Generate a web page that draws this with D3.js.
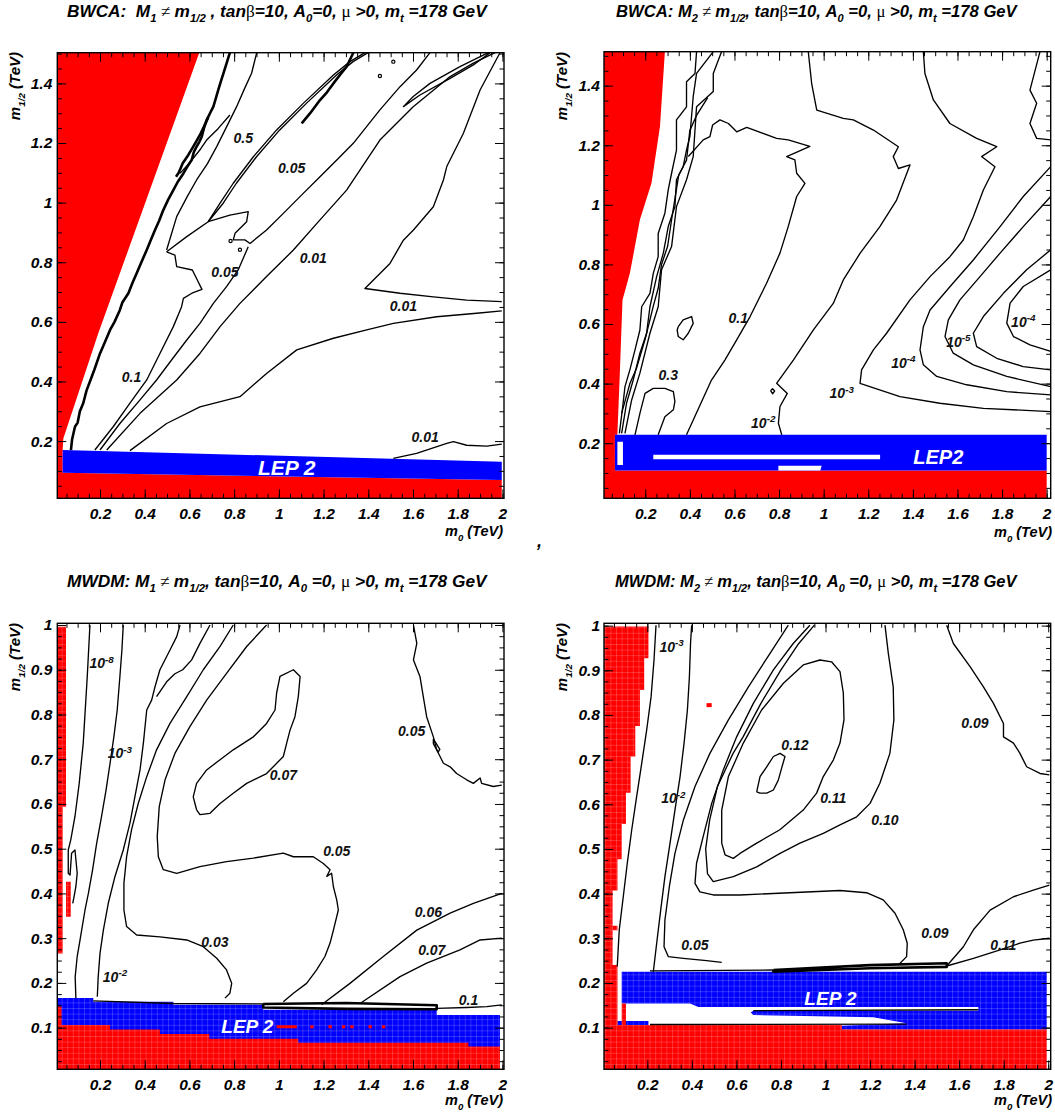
<!DOCTYPE html>
<html>
<head>
<meta charset="utf-8">
<script src="https://cdn.jsdelivr.net/npm/d3@7"></script>
<style>
  body { margin: 0; background: #fff; }
  text { font-family: "Liberation Sans", Arial, Helvetica, sans-serif; font-weight: bold; font-style: italic; white-space: pre; }
</style>
</head>
<body>
<svg id="fig" width="1055" height="1114"></svg>
<script>
// ================= axis tick values =================
const xMajorTicks = [0.2, 0.4, 0.6, 0.8, 1, 1.2, 1.4, 1.6, 1.8, 2];
const xMinorTicks = d3.range(1, 41).map(i => i * 0.05);
const yMajorTicksBWCA = [0.2, 0.4, 0.6, 0.8, 1, 1.2, 1.4];
const yMinorTicksBWCA = d3.range(1, 31).map(i => i * 0.05);
const yMajorTicksMWDM = [0.1, 0.2, 0.3, 0.4, 0.5, 0.6, 0.7, 0.8, 0.9, 1];
const yMinorTicksMWDM = d3.range(1, 41).map(i => i * 0.025);

// ================= titles =================
const titleBWCA1 = [["BWCA:  M"], ["1", "sub"], [" \u2260 ", "sym"], ["m"], ["1/2", "sub"], [" , tan"], ["\u03b2", "sym"], ["=10, A"], ["0", "sub"], ["=0, "], ["\u03bc", "sym"], [" >0, m"], ["t", "sub"], [" =178 GeV"]];
const titleBWCA2 = [["BWCA: M"], ["2", "sub"], [" \u2260 ", "sym"], ["m"], ["1/2", "sub"], [", tan"], ["\u03b2", "sym"], ["=10, A"], ["0", "sub"], [" =0, "], ["\u03bc", "sym"], [" >0, m"], ["t", "sub"], [" =178 GeV"]];
const titleMWDM1 = [["MWDM: M"], ["1", "sub"], [" \u2260 ", "sym"], ["m"], ["1/2", "sub"], [", tan"], ["\u03b2", "sym"], ["=10, A"], ["0", "sub"], [" =0, "], ["\u03bc", "sym"], [" >0, m"], ["t", "sub"], [" =178 GeV"]];
const titleMWDM2 = [["MWDM: M"], ["2", "sub"], [" \u2260 ", "sym"], ["m"], ["1/2", "sub"], [", tan"], ["\u03b2", "sym"], ["=10, A"], ["0", "sub"], [" =0, "], ["\u03bc", "sym"], [" >0, m"], ["t", "sub"], [" =178 GeV"]];
const yAxisTitle = [["m"], ["1/2", "sub"], [" (TeV)"]];
const xAxisTitle = [["m"], ["0", "sub"], [" (TeV)"]];

// ================= BWCA, M1 != m1/2 (m0, m1/2 in TeV) =================
const bwcaM1RedWedge = [[0.009,1.503],[0.644,1.503],[0.192,0.561],[0.036,0.209],[0.033,0.170],[0.033,0.008],[0.009,0.008]];
const bwcaM1RedBand = [[0.009,0.008],[0.009,0.095],[0.033,0.094],[1.997,0.069],[1.997,0.008]];
const bwcaM1Lep = [[0.033,0.170],[1.997,0.131],[1.997,0.069],[0.033,0.094]];

const bwcaM1EdgeContour = [[0.070,0.170],[0.075,0.205],[0.088,0.248],[0.100,0.262],[0.110,0.300],[0.125,0.327],[0.140,0.370],[0.163,0.416],[0.175,0.440],[0.200,0.494],[0.215,0.520],[0.245,0.573],[0.265,0.600],[0.289,0.640],[0.300,0.665],[0.327,0.696],[0.345,0.730],[0.364,0.763],[0.385,0.800],[0.409,0.841],[0.425,0.870],[0.446,0.908],[0.465,0.940],[0.483,0.975],[0.505,1.010],[0.528,1.042],[0.548,1.070],[0.573,1.098],[0.590,1.120],[0.610,1.143],[0.620,1.170],[0.632,1.188],[0.645,1.205],[0.655,1.221],[0.665,1.250],[0.677,1.277],[0.692,1.300],[0.707,1.322],[0.718,1.350],[0.729,1.378],[0.740,1.405],[0.752,1.434],[0.765,1.465],[0.781,1.503]];
const bwcaM1ShortThick = [[0.540,1.087],[0.552,1.100],[0.570,1.132],[0.595,1.160],[0.617,1.188],[0.630,1.205],[0.647,1.227],[0.665,1.255],[0.684,1.286]];
const bwcaM1UpperThick = [[1.102,1.266],[1.140,1.300],[1.184,1.344],[1.215,1.370],[1.244,1.400],[1.275,1.430],[1.303,1.456],[1.333,1.503]];
const bwcaM1ShortThin = [[0.558,1.098],[0.590,1.125],[0.617,1.149],[0.650,1.180],[0.677,1.210],[0.729,1.249],[0.781,1.294]];
const bwcaM1Contour05a = [[0.498,0.835],[0.588,0.886],[0.684,0.936],[0.737,0.998],[0.796,1.065],[0.886,1.154],[0.990,1.244],[1.109,1.333],[1.244,1.428],[1.318,1.473],[1.385,1.503]];
const bwcaM1Contour05b = [[0.684,0.936],[0.751,0.998],[0.810,1.065],[0.900,1.154],[1.004,1.244],[1.123,1.333],[1.258,1.428],[1.332,1.473],[1.399,1.503]];
const bwcaM1ContourInner = [[0.498,0.841],[0.543,0.953],[0.590,1.020],[0.632,1.076],[0.680,1.130],[0.722,1.188],[0.770,1.260],[0.811,1.322],[0.845,1.380],[0.878,1.434],[0.901,1.503]];
const bwcaM1Contour005Upper = [[0.684,0.936],[0.781,0.958],[0.863,0.970],[0.856,0.936],[0.804,0.897],[0.796,0.875],[0.848,0.875],[0.871,0.863],[0.945,0.908],[1.020,0.964],[1.109,1.031],[1.184,1.087],[1.259,1.143],[1.333,1.199],[1.452,1.311],[1.542,1.389],[1.616,1.445],[1.676,1.503]];
const bwcaM1Contour005Left = [[0.498,0.835],[0.535,0.824],[0.543,0.785],[0.613,0.774],[0.656,0.709],[0.611,0.696],[0.573,0.679],[0.565,0.651],[0.528,0.584],[0.468,0.494],[0.409,0.405],[0.334,0.327],[0.259,0.248],[0.177,0.170]];
const bwcaM1Contour005Right = [[0.863,0.852],[0.818,0.774],[0.766,0.718],[0.707,0.662],[0.647,0.595],[0.588,0.539],[0.520,0.472],[0.453,0.405],[0.379,0.338],[0.289,0.259],[0.200,0.170]];
const bwcaM1Contour001Upper = [[0.230,0.170],[0.379,0.293],[0.543,0.405],[0.647,0.494],[0.737,0.584],[0.826,0.662],[0.945,0.752],[1.065,0.841],[1.184,0.942],[1.303,1.042],[1.452,1.210],[1.601,1.322],[1.766,1.423],[1.870,1.468],[1.967,1.503]];
const bwcaM1CornerLoop = [[1.937,1.503],[1.810,1.456],[1.676,1.400],[1.601,1.356],[1.557,1.322],[1.631,1.361],[1.766,1.417],[1.870,1.462],[1.945,1.503]];
const bwcaM1Wedge001 = [[1.989,1.503],[1.900,1.378],[1.825,1.232],[1.751,1.121],[1.736,1.076],[1.691,0.986],[1.602,0.908],[1.557,0.874],[1.497,0.796],[1.385,0.712],[1.542,0.696],[1.691,0.684],[1.840,0.673],[1.997,0.668]];
const bwcaM1Contour001Mid = [[0.334,0.168],[0.498,0.259],[0.647,0.315],[0.826,0.349],[0.945,0.427],[1.080,0.506],[1.244,0.545],[1.393,0.573],[1.512,0.595],[1.706,0.617],[1.885,0.629],[1.997,0.637]];
const bwcaM1Contour001Low = [[1.512,0.142],[1.616,0.159],[1.751,0.192],[1.781,0.198],[1.840,0.186],[1.930,0.183],[1.997,0.190]];
const bwcaM1Dots = [[1.512,1.473],[1.452,1.425],[0.784,0.871],[0.826,0.842]];
const bwcaM1Labels = [["0.5",0.841,1.216],["0.05",1.057,1.115],["0.05",0.759,0.768],["0.01",1.154,0.813],["0.01",1.557,0.654],["0.1",0.341,0.416],["0.01",1.654,0.215]];
const bwcaM1LepLabel = ["LEP 2", 1.035, 0.110];

// ================= BWCA, M2 != m1/2 =================
const bwcaM2Red = [[0.015,1.514],[0.288,1.514],[0.266,1.263],[0.228,1.073],[0.176,0.950],[0.131,0.770],[0.098,0.681],[0.086,0.435],[0.075,0.228],[0.064,0.228],[0.064,0.108],[2.000,0.108],[2.000,0.015],[0.015,0.015]];
const bwcaM2Lep = [[0.064,0.228],[2.000,0.228],[2.000,0.108],[0.064,0.108]];
const bwcaM2LepGapLeft = [[0.075,0.205],[0.100,0.205],[0.100,0.127],[0.075,0.127]];
const bwcaM2LepGapBar = [[0.236,0.161],[1.253,0.161],[1.253,0.146],[0.236,0.146]];
const bwcaM2LepGapNotch = [[0.797,0.124],[0.991,0.124],[0.985,0.108],[0.797,0.108]];

const bwcaM2Bundle1 = [[0.084,0.233],[0.099,0.323],[0.109,0.390],[0.131,0.446],[0.154,0.513],[0.176,0.580],[0.184,0.658],[0.221,0.703],[0.236,0.770],[0.258,0.826],[0.258,0.904],[0.288,0.972],[0.303,1.050],[0.318,1.106],[0.340,1.184],[0.340,1.285],[0.385,1.329],[0.385,1.413],[0.423,1.441],[0.430,1.514]];
const bwcaM2Bundle2 = [[0.094,0.233],[0.116,0.334],[0.146,0.412],[0.176,0.502],[0.206,0.569],[0.221,0.658],[0.251,0.759],[0.281,0.838],[0.303,0.927],[0.333,0.994],[0.340,1.084],[0.370,1.128],[0.385,1.184],[0.400,1.229],[0.415,1.363],[0.430,1.441],[0.505,1.514]];
const bwcaM2Bundle3 = [[0.109,0.233],[0.139,0.345],[0.176,0.435],[0.221,0.569],[0.258,0.658],[0.273,0.782],[0.318,0.860],[0.340,0.994],[0.385,1.084],[0.415,1.162],[0.430,1.329],[0.505,1.380],[0.505,1.441],[0.542,1.514]];
const bwcaM2Bundle4 = [[0.094,0.300],[0.131,0.400],[0.160,0.450],[0.200,0.550],[0.236,0.660],[0.258,0.720],[0.273,0.800],[0.300,0.860],[0.318,0.950],[0.333,1.020],[0.350,1.100],[0.385,1.150],[0.400,1.250],[0.430,1.300],[0.480,1.360]];
const bwcaM2Contour01 = [[0.385,0.228],[0.497,0.412],[0.557,0.479],[0.610,0.547],[0.670,0.625],[0.744,0.737],[0.804,0.838],[0.841,0.927],[0.879,1.028],[0.916,1.072],[0.879,1.106],[0.871,1.151],[0.834,1.162],[0.938,1.196],[0.841,1.218],[0.789,1.223],[0.655,1.260],[0.610,1.245],[0.573,1.273],[0.535,1.285],[0.502,1.268],[0.490,1.229],[0.460,1.218],[0.393,1.162]];
const bwcaM2Island = [[0.348,0.591],[0.370,0.614],[0.408,0.625],[0.415,0.602],[0.393,0.569],[0.370,0.547],[0.348,0.558],[0.343,0.580],[0.348,0.591]];
const bwcaM2Contour03 = [[0.154,0.228],[0.176,0.300],[0.199,0.367],[0.236,0.384],[0.288,0.384],[0.326,0.373],[0.333,0.340],[0.326,0.312],[0.288,0.289],[0.258,0.228]];
const bwcaM2Contour1em2 = [[0.812,0.228],[0.797,0.267],[0.804,0.323],[0.837,0.367],[0.789,0.401],[0.864,0.479],[0.954,0.580],[1.043,0.669],[1.088,0.748],[1.163,0.837],[1.252,0.927],[1.327,1.016],[1.387,1.134],[1.335,1.122],[1.312,1.162],[1.335,1.195],[1.223,1.251],[1.133,1.285],[1.088,1.290],[0.969,1.318],[0.946,1.408],[0.931,1.514]];
const bwcaM2TinyLoop = [[0.762,0.376],[0.771,0.383],[0.780,0.375],[0.771,0.366],[0.762,0.376]];
const bwcaM2Contour1em3 = [[2.018,0.306],[1.716,0.317],[1.521,0.334],[1.342,0.356],[1.163,0.401],[1.170,0.446],[1.223,0.513],[1.282,0.569],[1.387,0.681],[1.477,0.759],[1.566,0.826],[1.626,0.882],[1.671,0.960],[1.716,1.050],[1.768,1.128],[1.708,1.162],[1.776,1.195],[1.686,1.223],[1.566,1.273],[1.492,1.352],[1.454,1.441],[1.447,1.514]];
const bwcaM2Contour1em4Outer = [[2.018,1.128],[1.895,1.028],[1.791,0.927],[1.671,0.815],[1.567,0.726],[1.477,0.647],[1.447,0.591],[1.432,0.513],[1.447,0.463],[1.507,0.424],[1.641,0.396],[1.821,0.373],[2.018,0.362]];
const bwcaM2Contour1em5 = [[2.018,1.028],[1.895,0.927],[1.791,0.838],[1.701,0.759],[1.611,0.681],[1.559,0.614],[1.544,0.558],[1.581,0.502],[1.671,0.463],[1.821,0.424],[2.018,0.390]];
const bwcaM2Contour1em6 = [[2.018,0.849],[1.910,0.782],[1.806,0.703],[1.716,0.625],[1.671,0.569],[1.686,0.524],[1.776,0.485],[1.895,0.457],[2.018,0.446]];
const bwcaM2Contour1em4Inner = [[2.018,0.782],[1.895,0.726],[1.836,0.670],[1.821,0.603],[1.851,0.558],[1.925,0.530],[2.018,0.508]];
const bwcaM2CornerLine = [[1.970,1.514],[1.925,1.385],[1.955,1.341],[1.925,1.273],[1.955,1.223],[2.018,1.218]];
const bwcaM2Labels = [["0.1",0.617,0.619],["0.3",0.303,0.429],["10^-2",0.729,0.267],["10^-3",1.081,0.367],["10^-4",1.357,0.468],["10^-5",1.604,0.541],["10^-4",1.895,0.608]];
const bwcaM2LepLabel = ["LEP2", 1.514, 0.155];

// ================= MWDM, M1 != m1/2 =================
const mwdmM1LepEdges = [0.009, 0.170, 0.528, 0.930, 1.706, 1.989];
const mwdmM1LepTops = [0.166, 0.158, 0.151, 0.140, 0.128];
const mwdmM1RedEdges = [0.009, 0.245, 0.468, 0.689, 1.087, 1.848, 1.989];
const mwdmM1RedTops = [0.106, 0.096, 0.086, 0.075, 0.066, 0.058];
const mwdmM1RedStrip = [[0.009,0.996],[0.048,0.996],[0.048,0.594],[0.033,0.594],[0.033,0.266],[0.009,0.266]];
const mwdmM1RedPatch = [[0.048,0.426],[0.069,0.426],[0.069,0.348],[0.048,0.348]];
const mwdmM1RedSliver = [[0.009,0.147],[0.028,0.147],[0.028,0.106],[0.009,0.106]];
const mwdmM1Specks = [[0.990,1.080,0.102],[1.140,1.155,0.102],[1.222,1.237,0.102],[1.282,1.297,0.102],[1.319,1.334,0.102],[1.401,1.416,0.102],[1.461,1.476,0.102]];

const mwdmM1Contour1em8 = [[0.155,1.000],[0.143,0.885],[0.125,0.736],[0.107,0.646],[0.088,0.572],[0.069,0.519],[0.058,0.497],[0.058,0.445],[0.066,0.441],[0.073,0.490],[0.088,0.497],[0.098,0.445],[0.092,0.415],[0.084,0.393],[0.078,0.378]];
const mwdmM1Contour1em3 = [[0.092,0.166],[0.089,0.214],[0.098,0.259],[0.113,0.303],[0.133,0.363],[0.148,0.400],[0.167,0.453],[0.185,0.512],[0.207,0.572],[0.227,0.631],[0.245,0.691],[0.262,0.750],[0.277,0.810],[0.289,0.885],[0.298,0.944],[0.304,1.000]];
const mwdmM1Contour1em2 = [[0.188,0.169],[0.192,0.214],[0.200,0.266],[0.215,0.318],[0.237,0.378],[0.267,0.438],[0.304,0.497],[0.334,0.557],[0.356,0.616],[0.379,0.676],[0.394,0.736],[0.409,0.810],[0.431,0.832],[0.446,0.862],[0.468,0.900],[0.513,0.944],[0.543,0.974],[0.558,1.000]];
const mwdmM1TopWiggle = [[0.692,1.000],[0.647,0.959],[0.610,0.922],[0.570,0.900],[0.535,0.891],[0.498,0.873],[0.453,0.840]];
const mwdmM1Contour003 = [[0.796,1.000],[0.737,0.952],[0.662,0.900],[0.588,0.840],[0.513,0.780],[0.453,0.721],[0.409,0.661],[0.371,0.601],[0.341,0.542],[0.319,0.482],[0.307,0.423],[0.307,0.363],[0.319,0.326],[0.364,0.307],[0.468,0.303],[0.588,0.296],[0.662,0.281],[0.722,0.255],[0.766,0.229],[0.789,0.199],[0.781,0.177],[0.759,0.166]];
const mwdmM1Contour005 = [[0.945,1.000],[0.856,0.952],[0.766,0.892],[0.677,0.832],[0.602,0.773],[0.535,0.713],[0.491,0.654],[0.465,0.594],[0.456,0.527],[0.461,0.482],[0.483,0.453],[0.543,0.445],[0.647,0.460],[0.766,0.471],[0.886,0.479],[1.020,0.490],[1.065,0.482],[1.154,0.482],[1.199,0.467],[1.229,0.453],[1.214,0.438],[1.236,0.445],[1.244,0.415],[1.259,0.385],[1.266,0.363],[1.244,0.318],[1.229,0.289],[1.206,0.259],[1.169,0.229],[1.124,0.199],[1.065,0.177],[1.020,0.158]];
const mwdmM1Contour007 = [[0.632,0.587],[0.617,0.616],[0.632,0.646],[0.677,0.676],[0.737,0.699],[0.796,0.721],[0.886,0.750],[0.945,0.780],[0.983,0.810],[0.990,0.848],[1.005,0.885],[1.065,0.900],[1.095,0.885],[1.087,0.840],[1.072,0.795],[1.050,0.765],[1.035,0.736],[1.020,0.706],[0.945,0.668],[0.856,0.646],[0.796,0.624],[0.737,0.601],[0.692,0.579],[0.647,0.576],[0.632,0.587]];
const mwdmM1Contour005Right = [[1.602,1.000],[1.617,0.959],[1.602,0.922],[1.631,0.885],[1.646,0.840],[1.661,0.795],[1.691,0.750],[1.706,0.721],[1.721,0.706],[1.736,0.691],[1.766,0.683],[1.795,0.668],[1.840,0.654],[1.870,0.646],[1.900,0.658],[1.907,0.646],[1.959,0.639],[1.997,0.642]];
const mwdmM1RightIsland = [[1.691,0.745],[1.700,0.738],[1.720,0.722],[1.712,0.716],[1.691,0.735],[1.691,0.745]];
const mwdmM1Contour006 = [[1.191,0.151],[1.318,0.199],[1.467,0.259],[1.617,0.318],[1.766,0.356],[1.870,0.378],[1.997,0.400]];
const mwdmM1Contour007Low = [[1.363,0.154],[1.542,0.214],[1.661,0.244],[1.810,0.274],[1.900,0.296],[1.997,0.300]];
const mwdmM1Contour01 = [[1.706,0.143],[1.840,0.145],[1.930,0.147],[1.997,0.151]];
const mwdmM1LepEdgeLine = [[0.170,0.160],[0.528,0.154],[0.945,0.153]];
const mwdmM1ThickBand = [[0.930,0.153],[1.300,0.155],[1.706,0.150],[1.706,0.141],[1.300,0.142],[0.930,0.145],[0.930,0.153]];
const mwdmM1Labels = [["10^-8",0.207,0.914],["10^-3",0.289,0.713],["0.07",1.020,0.665],["0.05",1.594,0.762],["0.05",1.259,0.494],["0.06",1.669,0.359],["0.07",1.684,0.274],["0.03",0.714,0.292],["10^-2",0.267,0.214],["0.1",1.848,0.162]];
const mwdmM1LepLabel = ["LEP 2", 0.859, 0.104];

// ================= MWDM, M2 != m1/2 =================
const mwdmM2RedStairs = [[0.006,0.998],[0.205,0.998],[0.205,0.927],[0.186,0.927],[0.186,0.856],[0.167,0.856],[0.167,0.775],[0.146,0.775],[0.146,0.707],[0.125,0.707],[0.125,0.626],[0.104,0.626],[0.104,0.556],[0.085,0.556],[0.085,0.477],[0.066,0.477],[0.066,0.407],[0.044,0.407],[0.044,0.240],[0.066,0.240],[0.066,0.006],[0.006,0.006]];
const mwdmM2RedNub = [[0.044,0.328],[0.066,0.328],[0.066,0.318],[0.044,0.318]];
const mwdmM2RedSliver = [[0.085,0.154],[0.104,0.154],[0.104,0.106],[0.085,0.106]];
const mwdmM2RedBand = [[0.006,0.106],[1.073,0.106],[1.073,0.096],[1.993,0.096],[1.993,0.006],[0.006,0.006]];
const mwdmM2Lep = [[0.085,0.225],[1.993,0.225],[1.993,0.096],[1.073,0.096],[1.073,0.104],[1.364,0.110],[1.215,0.123],[0.676,0.128],[0.664,0.134],[0.676,0.138],[1.686,0.138],[1.686,0.146],[0.429,0.146],[0.392,0.154],[0.085,0.154]];
const mwdmM2LepPatch = [[0.066,0.115],[0.205,0.115],[0.205,0.106],[0.066,0.106]];
const mwdmM2Specks = [[0.466,0.489,0.822]];

const mwdmM2Contour1em3 = [[0.065,0.237],[0.074,0.319],[0.092,0.393],[0.110,0.468],[0.130,0.543],[0.152,0.617],[0.175,0.692],[0.197,0.766],[0.217,0.841],[0.230,0.923],[0.239,1.001]];
const mwdmM2Contour1em2 = [[0.227,0.225],[0.242,0.289],[0.260,0.363],[0.279,0.438],[0.302,0.513],[0.324,0.587],[0.347,0.662],[0.365,0.737],[0.380,0.811],[0.389,0.886],[0.394,0.960],[0.399,1.001]];
const mwdmM2Contour005 = [[0.534,0.246],[0.466,0.250],[0.362,0.255],[0.294,0.259],[0.275,0.281],[0.279,0.341],[0.299,0.416],[0.324,0.490],[0.362,0.565],[0.414,0.640],[0.481,0.714],[0.564,0.789],[0.654,0.863],[0.751,0.938],[0.833,1.001]];
const mwdmM2Contour009 = [[0.930,1.001],[0.855,0.960],[0.766,0.901],[0.676,0.826],[0.601,0.751],[0.541,0.677],[0.489,0.602],[0.451,0.528],[0.421,0.468],[0.414,0.423],[0.436,0.404],[0.496,0.397],[0.616,0.397],[0.840,0.402],[1.065,0.407],[1.184,0.402],[1.259,0.386],[1.312,0.356],[1.349,0.319],[1.367,0.289],[1.364,0.259],[1.327,0.240]];
const mwdmM2Contour010 = [[1.267,1.001],[1.282,0.938],[1.304,0.863],[1.307,0.789],[1.289,0.714],[1.244,0.647],[1.200,0.602],[1.140,0.572],[1.065,0.554],[0.990,0.535],[0.885,0.513],[0.796,0.490],[0.691,0.460],[0.586,0.438],[0.496,0.427],[0.470,0.445],[0.462,0.500],[0.480,0.565],[0.515,0.640],[0.585,0.714],[0.630,0.751],[0.710,0.826],[0.800,0.901],[0.880,0.960],[0.950,1.001]];
const mwdmM2Contour011 = [[0.534,0.513],[0.534,0.587],[0.564,0.662],[0.631,0.737],[0.713,0.811],[0.811,0.871],[0.900,0.912],[0.975,0.923],[1.027,0.919],[1.065,0.897],[1.080,0.849],[1.083,0.789],[1.065,0.737],[1.035,0.699],[0.990,0.662],[0.960,0.625],[0.900,0.587],[0.795,0.543],[0.691,0.513],[0.616,0.490],[0.586,0.479],[0.549,0.487],[0.534,0.513]];
const mwdmM2Contour012 = [[0.691,0.628],[0.706,0.662],[0.736,0.684],[0.766,0.707],[0.796,0.714],[0.818,0.707],[0.803,0.681],[0.788,0.654],[0.766,0.632],[0.736,0.625],[0.706,0.625],[0.691,0.628]];
const mwdmM2Contour009Right = [[1.544,1.001],[1.574,0.960],[1.649,0.908],[1.709,0.863],[1.754,0.826],[1.799,0.781],[1.799,0.751],[1.844,0.737],[1.873,0.714],[1.903,0.684],[1.963,0.669],[2.005,0.666]];
const mwdmM2Contour010Low = [[1.544,0.238],[1.619,0.281],[1.664,0.319],[1.739,0.363],[1.844,0.393],[1.933,0.408],[2.005,0.419]];
const mwdmM2Contour011Low = [[1.544,0.238],[1.664,0.255],[1.784,0.274],[1.873,0.289],[1.933,0.296],[2.005,0.300]];
const mwdmM2LepEdgeLine = [[0.212,0.227],[0.766,0.229]];
const mwdmM2GapLine1 = [[0.212,0.107],[1.364,0.108]];
const mwdmM2GapLine2 = [[0.676,0.138],[1.686,0.140]];
const mwdmM2ThickBand = [[0.766,0.229],[1.200,0.240],[1.544,0.244],[1.544,0.236],[1.200,0.233],[0.766,0.225],[0.766,0.229]];
const mwdmM2Labels = [["10^-3",0.309,0.953],["10^-2",0.317,0.613],["0.12",0.863,0.733],["0.11",1.035,0.613],["0.10",1.267,0.565],["0.09",1.671,0.781],["0.05",0.414,0.285],["0.09",1.491,0.311],["0.11",1.798,0.285]];
const mwdmM2LepLabel = ["LEP 2", 1.022, 0.167];

// ================= drawing =================
const RED = "#ff0000", BLUE = "#0000ff", WHITE = "#ffffff";
const svg = d3.select("#fig");
const defs = svg.append("defs");
// faint cell grid of the scan used by the lower panels
const cells = defs.append("pattern").attr("id", "cells").attr("patternUnits", "userSpaceOnUse")
  .attr("width", 5.6).attr("height", 5.6);
cells.append("path").attr("d", "M0,0.5H5.6M0.5,0V5.6").attr("stroke", "#ffffff")
  .attr("stroke-opacity", 0.22).attr("stroke-width", 0.8).attr("fill", "none");

function stepArea(edges, tops, base) {
  const pts = [[edges[0], base]];
  tops.forEach((t, i) => { pts.push([edges[i], t]); pts.push([edges[i + 1], t]); });
  pts.push([edges[edges.length - 1], base]);
  return pts;
}

function richText(sel, parts, size) {
  let shift = 0;
  parts.forEach(([t, kind]) => {
    const ts = sel.append("tspan").text(t);
    let target = 0;
    if (kind === "sub") { target = size * 0.32; ts.attr("font-size", size * 0.66); }
    if (kind === "sup") { target = -size * 0.42; ts.attr("font-size", size * 0.7); }
    if (kind === "sym") ts.attr("font-family", "'Liberation Serif', serif").attr("font-weight", "normal").attr("font-style", "normal");
    if (target !== shift) ts.attr("dy", target - shift);
    shift = target;
  });
}

function labelParts(s) {
  if (s.indexOf("^") < 0) return [[s]];
  const [b, e] = s.split("^");
  return [[b], [e, "sup"]];
}

const panels = [
  { key: "p1", left: 57.3, right: 504, top: 52.7, bottom: 498.3, xDomain: [0.009, 2.007], yDomain: [0.008, 1.503],
    yMajor: yMajorTicksBWCA, yMinor: yMinorTicksBWCA, cells: false, padX: 10, padY: 5,
    fills: [[bwcaM1RedWedge, RED], [bwcaM1RedBand, RED], [bwcaM1Lep, BLUE]], specks: [],
    lines: [bwcaM1ShortThin, bwcaM1Contour05a, bwcaM1Contour05b, bwcaM1ContourInner, bwcaM1Contour005Upper, bwcaM1Contour005Left,
            bwcaM1Contour005Right, bwcaM1Contour001Upper, bwcaM1CornerLoop, bwcaM1Wedge001, bwcaM1Contour001Mid, bwcaM1Contour001Low],
    thick: [bwcaM1EdgeContour, bwcaM1ShortThick, bwcaM1UpperThick], dots: bwcaM1Dots,
    labels: bwcaM1Labels, lep: bwcaM1LepLabel, lepSize: 21,
    title: titleBWCA1, titleX: [67, 487], titleY: 17, yTitleX: 20, yTitleY: 52, xTitleX: 503, xTitleY: 536 },
  { key: "p2", left: 604, right: 1050.7, top: 51.7, bottom: 498.3, xDomain: [0.015, 2.018], yDomain: [0.015, 1.514],
    yMajor: yMajorTicksBWCA, yMinor: yMinorTicksBWCA, cells: false, padX: 10, padY: 4,
    fills: [[bwcaM2Red, RED], [bwcaM2Lep, BLUE], [bwcaM2LepGapLeft, WHITE], [bwcaM2LepGapBar, WHITE], [bwcaM2LepGapNotch, WHITE]], specks: [],
    lines: [bwcaM2Bundle1, bwcaM2Bundle2, bwcaM2Bundle3, bwcaM2Bundle4, bwcaM2Contour01, bwcaM2Island, bwcaM2Contour03, bwcaM2Contour1em2,
            bwcaM2TinyLoop, bwcaM2Contour1em3, bwcaM2Contour1em4Outer, bwcaM2Contour1em5, bwcaM2Contour1em6, bwcaM2Contour1em4Inner, bwcaM2CornerLine],
    thick: [], dots: [],
    labels: bwcaM2Labels, lep: bwcaM2LepLabel, lepSize: 20,
    title: titleBWCA2, titleX: [616, 1017], titleY: 17, yTitleX: 567, yTitleY: 52, xTitleX: 1052, xTitleY: 537 },
  { key: "p3", left: 57.3, right: 504, top: 623.3, bottom: 1069.3, xDomain: [0.009, 2.007], yDomain: [0.0069, 1.0038],
    yMajor: yMajorTicksMWDM, yMinor: yMinorTicksMWDM, cells: true, padX: 10, padY: 5,
    fills: [[stepArea(mwdmM1LepEdges, mwdmM1LepTops, 0.0069), BLUE], [stepArea(mwdmM1RedEdges, mwdmM1RedTops, 0.0069), RED],
            [mwdmM1RedStrip, RED], [mwdmM1RedPatch, RED], [mwdmM1RedSliver, RED]],
    specks: mwdmM1Specks, speckH: 3,
    lines: [mwdmM1Contour1em8, mwdmM1Contour1em3, mwdmM1Contour1em2, mwdmM1TopWiggle, mwdmM1Contour003, mwdmM1Contour005, mwdmM1Contour007,
            mwdmM1Contour005Right, mwdmM1RightIsland, mwdmM1Contour006, mwdmM1Contour007Low, mwdmM1Contour01, mwdmM1LepEdgeLine],
    thick: [mwdmM1ThickBand], dots: [],
    labels: mwdmM1Labels, lep: mwdmM1LepLabel, lepSize: 19,
    title: titleMWDM1, titleX: [67, 487], titleY: 587, yTitleX: 20, yTitleY: 623, xTitleX: 503, xTitleY: 1105 },
  { key: "p4", left: 604, right: 1050.7, top: 623.3, bottom: 1069.3, xDomain: [0.0055, 2.011], yDomain: [0.0067, 1.0052],
    yMajor: yMajorTicksMWDM, yMinor: yMinorTicksMWDM, cells: true, padX: 10, padY: 4,
    fills: [[mwdmM2Lep, BLUE], [mwdmM2LepPatch, BLUE], [mwdmM2RedStairs, RED], [mwdmM2RedNub, RED], [mwdmM2RedSliver, RED], [mwdmM2RedBand, RED]],
    specks: mwdmM2Specks, speckH: 4,
    lines: [mwdmM2Contour1em3, mwdmM2Contour1em2, mwdmM2Contour005, mwdmM2Contour009, mwdmM2Contour010, mwdmM2Contour011, mwdmM2Contour012,
            mwdmM2Contour009Right, mwdmM2Contour010Low, mwdmM2Contour011Low, mwdmM2LepEdgeLine, mwdmM2GapLine1, mwdmM2GapLine2],
    thick: [mwdmM2ThickBand], dots: [],
    labels: mwdmM2Labels, lep: mwdmM2LepLabel, lepSize: 19,
    title: titleMWDM2, titleX: [615, 1017], titleY: 587, yTitleX: 567, yTitleY: 623, xTitleX: 1052, xTitleY: 1105 }
];

const fmt = d => String(+d.toFixed(2));

panels.forEach(p => {
  const x = d3.scaleLinear().domain(p.xDomain).range([p.left, p.right]);
  const y = d3.scaleLinear().domain(p.yDomain).range([p.bottom, p.top]);
  const line = d3.line().x(d => x(d[0])).y(d => y(d[1]));

  defs.append("clipPath").attr("id", "clip-" + p.key).append("rect")
    .attr("x", p.left).attr("y", p.top).attr("width", p.right - p.left).attr("height", p.bottom - p.top);
  const g = svg.append("g");
  const plot = g.append("g").attr("clip-path", "url(#clip-" + p.key + ")");

  // excluded regions
  p.fills.forEach(([pts, col]) => {
    plot.append("path").attr("d", line(pts) + "Z").attr("fill", col);
    if (p.cells && col !== WHITE) plot.append("path").attr("d", line(pts) + "Z").attr("fill", "url(#cells)");
  });
  p.specks.forEach(([x0, x1, yc]) => {
    plot.append("rect").attr("x", x(x0)).attr("width", x(x1) - x(x0))
      .attr("y", y(yc) - p.speckH / 2).attr("height", p.speckH).attr("fill", RED);
  });

  // contour lines
  plot.selectAll(null).data(p.lines).join("path").attr("d", line)
    .attr("fill", "none").attr("stroke", "#000").attr("stroke-width", 1.35).attr("stroke-linejoin", "round");
  plot.selectAll(null).data(p.thick).join("path").attr("d", line)
    .attr("fill", "none").attr("stroke", "#000").attr("stroke-width", 2.6).attr("stroke-linejoin", "round");
  plot.selectAll(null).data(p.dots).join("circle")
    .attr("cx", d => x(d[0])).attr("cy", d => y(d[1])).attr("r", 1.6)
    .attr("fill", "none").attr("stroke", "#000").attr("stroke-width", 1.2);

  // contour values
  p.labels.forEach(([t, mx, my]) => {
    const tx = plot.append("text").attr("x", x(mx)).attr("y", y(my) + 5)
      .attr("text-anchor", "middle").attr("font-size", 14).attr("fill", "#111");
    richText(tx, labelParts(t), 14);
  });
  plot.append("text").attr("x", x(p.lep[1])).attr("y", y(p.lep[2]) + p.lepSize * 0.36)
    .attr("text-anchor", "middle").attr("font-size", p.lepSize).attr("fill", "#fff").text(p.lep[0]);

  // axes with inward ticks on all four sides
  const axes = [
    [d3.axisBottom(x).tickValues(xMajorTicks).tickSize(-9).tickPadding(p.padX).tickFormat(fmt), "translate(0," + p.bottom + ")"],
    [d3.axisBottom(x).tickValues(xMinorTicks).tickSize(-4.5).tickFormat(""), "translate(0," + p.bottom + ")"],
    [d3.axisTop(x).tickValues(xMajorTicks).tickSize(-9).tickFormat(""), "translate(0," + p.top + ")"],
    [d3.axisTop(x).tickValues(xMinorTicks).tickSize(-4.5).tickFormat(""), "translate(0," + p.top + ")"],
    [d3.axisLeft(y).tickValues(p.yMajor).tickSize(-9).tickPadding(p.padY).tickFormat(fmt), "translate(" + p.left + ",0)"],
    [d3.axisLeft(y).tickValues(p.yMinor).tickSize(-4.5).tickFormat(""), "translate(" + p.left + ",0)"],
    [d3.axisRight(y).tickValues(p.yMajor).tickSize(-9).tickFormat(""), "translate(" + p.right + ",0)"],
    [d3.axisRight(y).tickValues(p.yMinor).tickSize(-4.5).tickFormat(""), "translate(" + p.right + ",0)"]
  ];
  axes.forEach(([ax, tr]) => {
    const a = g.append("g").attr("transform", tr).call(ax);
    a.select(".domain").remove();
    a.selectAll("line").attr("stroke", "#000").attr("stroke-width", 1);
    a.selectAll("text").attr("font-size", 15.5).attr("fill", "#000")
      .attr("font-family", "'Liberation Sans', Arial, sans-serif").attr("font-weight", "bold").attr("font-style", "italic");
  });

  g.append("rect").attr("x", p.left).attr("y", p.top).attr("width", p.right - p.left).attr("height", p.bottom - p.top)
    .attr("fill", "none").attr("stroke", "#000").attr("stroke-width", 1.4);

  // axis titles
  const yt = g.append("text").attr("font-size", 15).attr("text-anchor", "end")
    .attr("transform", "translate(" + p.yTitleX + "," + p.yTitleY + ") rotate(-90)");
  richText(yt, yAxisTitle, 15);
  const xt = g.append("text").attr("font-size", 14.5).attr("text-anchor", "end")
    .attr("x", p.xTitleX).attr("y", p.xTitleY);
  richText(xt, xAxisTitle, 14.5);

  // panel title, stretched to its printed width
  const tt = g.append("text").attr("font-size", 16.5).attr("x", p.titleX[0]).attr("y", p.titleY);
  richText(tt, p.title, 16.5);
  const w = tt.node().getComputedTextLength();
  const sx = (p.titleX[1] - p.titleX[0]) / w;
  tt.attr("transform", "translate(" + p.titleX[0] + ",0) scale(" + sx + ",1) translate(" + (-p.titleX[0]) + ",0)");
});

svg.append("text").attr("x", 537).attr("y", 547).attr("font-size", 18)
  .attr("font-family", "'Liberation Serif', serif").attr("font-weight", "normal").attr("font-style", "normal").text(",");
</script>
</body>
</html>
